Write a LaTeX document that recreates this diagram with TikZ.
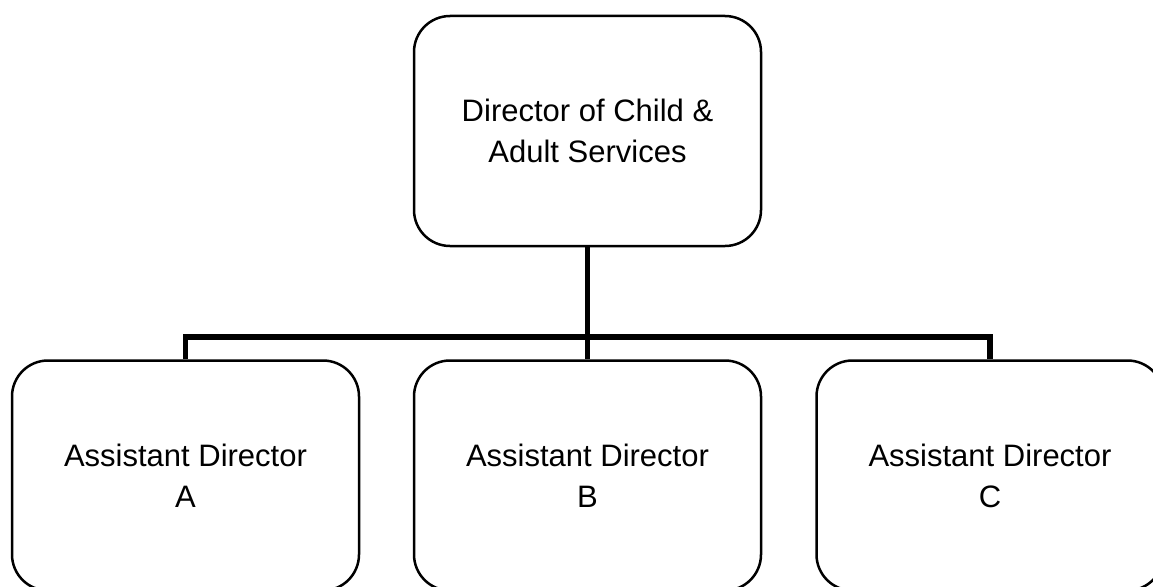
\documentclass[tikz,border=0pt]{standalone}
\usepackage{fontspec}
\setmainfont{Liberation Sans}
\begin{document}
\begin{tikzpicture}[x=1pt,y=-1pt,
  orgbox/.style={draw=black, line width=2.5pt, rounded corners=36pt,
    minimum width=347pt, minimum height=230pt, align=center,
    font=\fontsize{31}{41}\selectfont, inner sep=0pt},
  link/.style={line width=5.5pt}]
  \useasboundingbox (0,0) rectangle (1153,586);
  % top of the chart
  \node[orgbox] (dir) at (587.5,131) {Director of Child \&\\Adult Services};
  % assistant directors
  \node[orgbox] (a) at (185.5,475.5) {Assistant Director\\A};
  \node[orgbox] (b) at (587.5,475.5) {Assistant Director\\B};
  \node[orgbox] (c) at (990,475.5) {Assistant Director\\C};
  % reporting lines
  \coordinate (bus) at (587.5,337);
  \draw[link] (dir.south) -- (b.north);
  \draw[link] (a.north) |- (bus) -| (c.north);
\end{tikzpicture}
\end{document}
